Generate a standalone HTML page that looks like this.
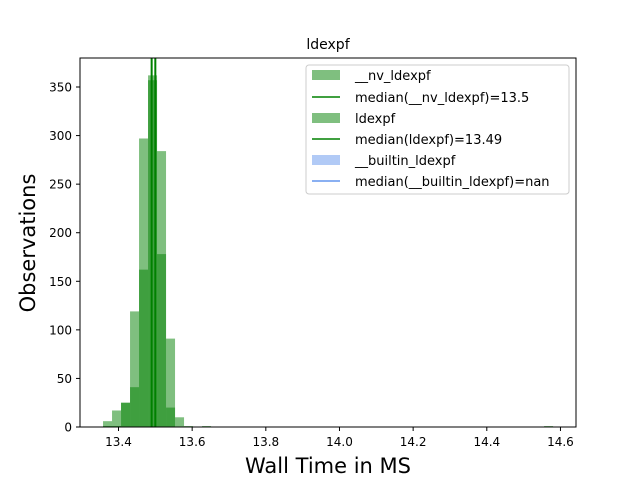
<!DOCTYPE html>
<html><head><meta charset="utf-8"><style>body{margin:0;background:#fff}svg{display:block}text{font-family:"DejaVu Sans","Liberation Sans",sans-serif}</style></head>
<body>
<svg id="chart" width="640" height="480" viewBox="0 0 640 480" xmlns="http://www.w3.org/2000/svg">
<defs><clipPath id="pc"><rect x="80" y="58" width="496" height="369"/></clipPath></defs>
<rect x="0" y="0" width="640" height="480" fill="#fff"/>
<g id="bars" clip-path="url(#pc)"></g>
<g id="medians" clip-path="url(#pc)"></g>
<rect x="80" y="58" width="496" height="369" fill="none" stroke="#000" stroke-width="1"/>
<g id="xticks"></g>
<g id="yticks"></g>
<text x="328" y="49" font-size="14" text-anchor="middle">ldexpf</text>
<text x="328" y="473" font-size="21" text-anchor="middle">Wall Time in MS</text>
<text transform="translate(35,243) rotate(-90)" font-size="21" text-anchor="middle">Observations</text>
<g>
<rect x="306" y="65" width="263" height="129" rx="3" fill="#fff" fill-opacity="0.8" stroke="#ccc"/>
<rect x="312" y="70" width="28" height="10" fill="green" fill-opacity="0.5"/>
<text x="355" y="80" font-size="13">__nv_ldexpf</text>
<line x1="312" y1="97" x2="340" y2="97" stroke="green" stroke-width="1.5"/>
<text x="355" y="102" font-size="13">median(__nv_ldexpf)=13.5</text>
<rect x="312" y="113" width="28" height="10" fill="green" fill-opacity="0.5"/>
<text x="355" y="123" font-size="13">ldexpf</text>
<line x1="312" y1="139" x2="340" y2="139" stroke="green" stroke-width="1.5"/>
<text x="355" y="144" font-size="13">median(ldexpf)=13.49</text>
<rect x="312" y="155" width="28" height="10" fill="cornflowerblue" fill-opacity="0.5"/>
<text x="355" y="165" font-size="13">__builtin_ldexpf</text>
<line x1="312" y1="181" x2="340" y2="181" stroke="cornflowerblue" stroke-width="1.5"/>
<text x="355" y="186" font-size="13">median(__builtin_ldexpf)=nan</text>
</g>
</svg>
<script>
const binStart = 13.358;
const binWidth = 0.02444;
const nvCounts = [6,17,25,41,297,357,178,91,10,1,0,1,0,0,0,0,0,0,0,0,0,0,0,0,0,0,0,0,0,0,0,0,0,0,0,0,0,0,0,0,0,0,0,0,0,0,0,0,0,1];
const ldCounts = [1,1,25,119,162,362,284,20,0,0,0,0];
const medians = [13.5, 13.49];
const xTicks = [13.4,13.6,13.8,14.0,14.2,14.4,14.6];
const xTickLabels = ["13.4","13.6","13.8","14.0","14.2","14.4","14.6"];
const yTicks = [0,50,100,150,200,250,300,350];

const NS="http://www.w3.org/2000/svg";
const sx = v => 118.5 + (v-13.4)*368.3;
const sy = v => 427 - v*0.9714;
function mk(tag, attrs, parent){const e=document.createElementNS(NS,tag);for(const k in attrs)e.setAttribute(k,attrs[k]);parent.appendChild(e);return e;}
const bars=document.getElementById('bars');
[[nvCounts,'nv'],[ldCounts,'ld']].forEach(([arr,n])=>{
  arr.forEach((c,i)=>{ if(!c) return;
    const x0=sx(binStart+i*binWidth), x1=sx(binStart+(i+1)*binWidth);
    const r=mk('rect',{x:x0,y:sy(c),width:x1-x0,height:427-sy(c),fill:'green','fill-opacity':0.5},bars);
    
    
  });
});
const med=document.getElementById('medians');
medians.forEach((m,i)=>{
  const l=mk('line',{x1:sx(m),x2:sx(m),y1:58,y2:427,stroke:'green','stroke-width':2},med);
  
  
});
const xg=document.getElementById('xticks');
xTicks.forEach((t,i)=>{
  mk('line',{x1:sx(t),x2:sx(t),y1:427,y2:431,stroke:'#000'},xg);
  const tx=mk('text',{x:sx(t),y:446,'font-size':12,'text-anchor':'middle'},xg);
  tx.textContent=xTickLabels[i];
  
  
});
const yg=document.getElementById('yticks');
yTicks.forEach(t=>{
  mk('line',{x1:76,x2:80,y1:sy(t),y2:sy(t),stroke:'#000'},yg);
  const tx=mk('text',{x:72,y:sy(t)+4.5,'font-size':12,'text-anchor':'end'},yg);
  tx.textContent=String(t);
  
  
});
</script>
</body></html>
